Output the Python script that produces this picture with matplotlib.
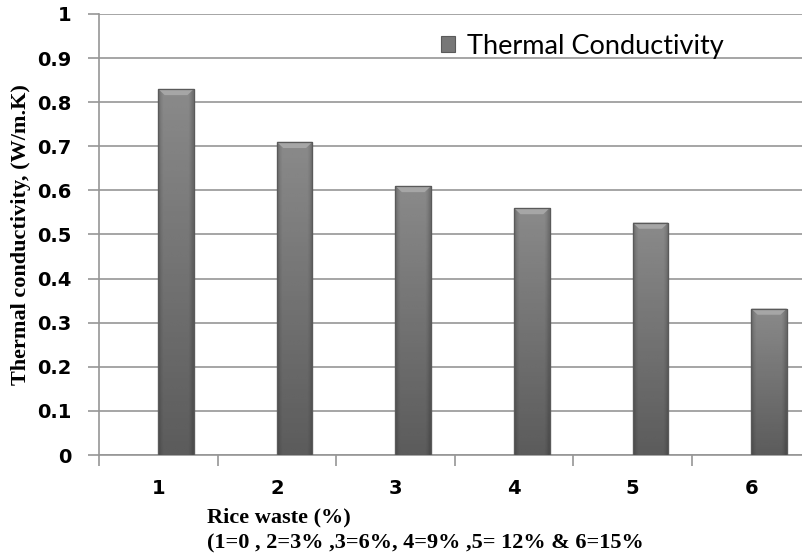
import matplotlib
matplotlib.use("Agg")
import matplotlib.pyplot as plt
import numpy as np

categories = ["1", "2", "3", "4", "5", "6"]
values = [0.83, 0.71, 0.61, 0.56, 0.527, 0.332]
yticks = [0, 0.1, 0.2, 0.3, 0.4, 0.5, 0.6, 0.7, 0.8, 0.9, 1]
ytick_labels = ["0", "0.1", "0.2", "0.3", "0.4", "0.5", "0.6", "0.7", "0.8", "0.9", "1"]
series_name = "Thermal Conductivity"
ylabel = "Thermal conductivity, (W/m.K)"
xlabel1 = "Rice waste (%)"
xlabel2 = "(1=0 , 2=3% ,3=6%, 4=9% ,5= 12% & 6=15%"

fig = plt.figure(figsize=(8.02, 5.57), dpi=100)
ax = fig.add_axes([0.1234, 0.1831, 0.8873, 0.7918])

x = np.arange(len(categories))
bars = ax.bar(x, values, width=0.3, align="edge", color="#777777", edgecolor="#5a5a5a",
              linewidth=0.8, zorder=3, label=series_name)

# gradient shading on each bar (vertical light->dark, darker side edges)
ny, nx = 64, 16
vy = np.linspace(0.36, 0.54, ny)[:, None]          # bottom->top
hx = np.ones(nx)
hx[0] = hx[-1] = 0.82
hx[1] = hx[-2] = 0.93
shade = vy * hx[None, :]
for b in bars:
    x0, w, h = b.get_x(), b.get_width(), b.get_height()
    im = ax.imshow(shade, cmap="gray", vmin=0, vmax=1, aspect="auto", origin="lower",
                   extent=[x0, x0 + w, 0, h], zorder=3.5, interpolation="bilinear")
    im.set_clip_path(b)
    # top bevel
    ax.fill([x0, x0 + w, x0 + w * 0.82, x0 + w * 0.18], [h, h, h - 0.014, h - 0.014],
            color="#a6a6a6", zorder=4, lw=0)
    ax.bar(x0, h, width=w, align="edge", fill=False, edgecolor="#5a5a5a",
           linewidth=0.9, zorder=4.5)

ax.set_xlim(-0.5, len(categories) - 0.5)
ax.set_ylim(0, 1)
ax.set_yticks(yticks)
ax.set_yticklabels(ytick_labels, fontsize=14, fontweight="bold", family="DejaVu Sans")
ax.set_xticks(x)
ax.set_xticklabels(categories, fontsize=14, fontweight="bold", family="DejaVu Sans")
ax.set_xticks(np.arange(-0.5, len(categories), 1), minor=True)
ax.tick_params(axis="x", which="major", length=0, pad=17)
ax.tick_params(axis="x", which="minor", length=8, color="#969696", width=1.2)
ax.tick_params(axis="y", length=8, color="#969696", width=1.2, pad=12)

ax.grid(axis="y", color="#969696", linewidth=1.2, zorder=0)
ax.set_axisbelow(True)
for s in ["top", "right"]:
    ax.spines[s].set_visible(False)
for s in ["left", "bottom"]:
    ax.spines[s].set_color("#969696")
    ax.spines[s].set_linewidth(1.2)

ax.set_ylabel(ylabel, fontsize=16, fontweight="bold", family="Liberation Serif", labelpad=4)

fig.text(0.258, 1 - 517 / 557, xlabel1, fontsize=16, fontweight="bold", family="Liberation Serif",
         ha="left", va="center")
fig.text(0.258, 1 - 543 / 557, xlabel2, fontsize=16, fontweight="bold", family="Liberation Serif",
         ha="left", va="center")

leg = ax.legend(loc="upper left", bbox_to_anchor=(0.466, 0.98), frameon=False,
                prop={"family": "Lato", "size": 19.5}, handlelength=0.5, handleheight=0.5,
                handletextpad=0.45, borderaxespad=0)

fig.savefig("out.png", dpi=100)
